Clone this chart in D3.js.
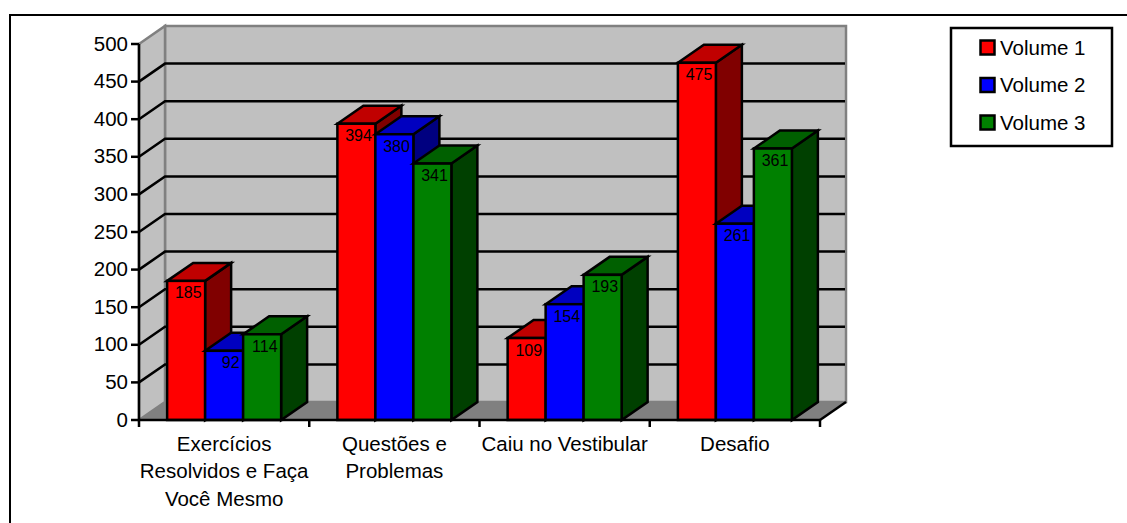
<!DOCTYPE html>
<html>
<head>
<meta charset="utf-8">
<script src="https://cdn.jsdelivr.net/npm/d3@7"></script>
<style>
  html, body { margin: 0; padding: 0; background: #fff; }
  svg { display: block; }
  text { font-family: "Liberation Sans", Arial, sans-serif; fill: #000; }
</style>
</head>
<body>
<div id="chart"></div>
<script>
// Data
var categories = [
    ["Exercícios", "Resolvidos e Faça", "Você Mesmo"],
    ["Questões e", "Problemas"],
    ["Caiu no Vestibular"],
    ["Desafio"]
];
var seriesNames = ["Volume 1", "Volume 2", "Volume 3"];
var volume1 = [185, 394, 109, 475];
var volume2 = [92, 380, 154, 261];
var volume3 = [114, 341, 193, 361];
var yTicks = [0, 50, 100, 150, 200, 250, 300, 350, 400, 450, 500];

var frontColors = ["#ff0000", "#0000ff", "#008000"];
var topColors = ["#c00000", "#0000c0", "#006000"];
var sideColors = ["#800000", "#000080", "#004000"];

var w = 1127;
var h = 523;
var depthX = 26;
var depthY = 18;
var barWidth = 38;
var lineW = 2.5;
var axisFont = 20.5;

var svg = d3.select("#chart")
    .append("svg")
    .attr("width", w)
    .attr("height", h);

// Outer frame, only left and top show inside the picture
svg.append("path")
    .attr("d", "M10,523V15H1127")
    .attr("fill", "none")
    .attr("stroke", "#000")
    .attr("stroke-width", 2);

var xScale = d3.scaleBand()
    .domain(d3.range(categories.length))
    .range([139, 820]);

var yScale = d3.scaleLinear()
    .domain([0, 500])
    .range([420, 44]);

var x0 = xScale.range()[0];
var x1 = xScale.range()[1];
var y0 = yScale(0);
var yTop = yScale(500);

// Walls and floor
function poly(points) {
    return "M" + points.map(function(p) { return p.join(","); }).join("L") + "Z";
}

svg.append("path")
    .attr("d", poly([[x0 + depthX, yTop - depthY], [x1 + depthX, yTop - depthY], [x1 + depthX, y0 - depthY], [x0 + depthX, y0 - depthY]]))
    .attr("fill", "#c0c0c0")
    .attr("stroke", "#808080")
    .attr("stroke-width", lineW);

svg.append("path")
    .attr("d", poly([[x0, yTop], [x0 + depthX, yTop - depthY], [x0 + depthX, y0 - depthY], [x0, y0]]))
    .attr("fill", "#c0c0c0")
    .attr("stroke", "#808080")
    .attr("stroke-width", lineW);

svg.append("path")
    .attr("d", poly([[x0, y0], [x0 + depthX, y0 - depthY], [x1 + depthX, y0 - depthY], [x1, y0]]))
    .attr("fill", "#808080")
    .attr("stroke", "#808080")
    .attr("stroke-width", 1);

// Gridlines on both walls
var gridTicks = yTicks.filter(function(d) { return d > 0 && d < 500; });

svg.selectAll("path.grid")
    .data(gridTicks)
    .enter()
    .append("path")
    .attr("class", "grid")
    .attr("d", function(d) {
        var y = yScale(d);
        return "M" + x0 + "," + y + "L" + (x0 + depthX) + "," + (y - depthY) + "H" + (x1 + depthX - 1);
    })
    .attr("fill", "none")
    .attr("stroke", "#000")
    .attr("stroke-width", lineW);

// Floor edge on the right side, black like the axis
svg.append("line")
    .attr("x1", x1).attr("y1", y0)
    .attr("x2", x1 + depthX).attr("y2", y0 - depthY)
    .attr("stroke", "#000")
    .attr("stroke-width", lineW);

// Bars, one group per series
var seriesData = [volume1, volume2, volume3];
var labelRows = [];

categories.forEach(function(c, i) {
    var left = xScale(i) + (xScale.bandwidth() - barWidth * 3) / 2;

    seriesData.forEach(function(values, s) {
        var bx = left + s * barWidth;
        var by = yScale(values[i]);
        var g = svg.append("g")
            .attr("stroke", "#000")
            .attr("stroke-width", lineW)
            .attr("stroke-linejoin", "miter");

        g.append("path")
            .attr("d", poly([[bx + barWidth, by], [bx + barWidth + depthX, by - depthY], [bx + barWidth + depthX, y0 - depthY], [bx + barWidth, y0]]))
            .attr("fill", sideColors[s]);
        g.append("path")
            .attr("d", poly([[bx, by], [bx + depthX, by - depthY], [bx + barWidth + depthX, by - depthY], [bx + barWidth, by]]))
            .attr("fill", topColors[s]);
        g.append("rect")
            .attr("x", bx)
            .attr("y", by)
            .attr("width", barWidth)
            .attr("height", y0 - by)
            .attr("fill", frontColors[s]);

        labelRows.push({ x: bx + barWidth - 3.5, y: by + 17.5, v: values[i] });
    });
});

// Data labels on top of all bars
svg.selectAll("text.value")
    .data(labelRows)
    .enter()
    .append("text")
    .attr("class", "value")
    .attr("x", function(d) { return d.x; })
    .attr("y", function(d) { return d.y; })
    .attr("text-anchor", "end")
    .attr("font-size", 16)
    .text(function(d) { return d.v; });

// Y axis
var yAxis = d3.axisLeft(yScale)
    .tickValues(yTicks)
    .tickSize(8)
    .tickPadding(3)
    .tickSizeOuter(0)
    .offset(0);

var yG = svg.append("g")
    .attr("transform", "translate(" + x0 + ",0)")
    .call(yAxis);
yG.selectAll("line, path").attr("stroke", "#000").attr("stroke-width", lineW);
yG.selectAll("text")
    .attr("font-size", axisFont)
    .attr("font-family", "Liberation Sans");

// X axis, ticks sit on band edges
svg.append("line")
    .attr("x1", x0).attr("x2", x1)
    .attr("y1", y0).attr("y2", y0)
    .attr("stroke", "#000")
    .attr("stroke-width", lineW);

svg.selectAll("line.xtick")
    .data(d3.range(categories.length + 1))
    .enter()
    .append("line")
    .attr("class", "xtick")
    .attr("x1", function(d) { return x0 + d * xScale.step(); })
    .attr("x2", function(d) { return x0 + d * xScale.step(); })
    .attr("y1", y0)
    .attr("y2", y0 + 7)
    .attr("stroke", "#000")
    .attr("stroke-width", lineW);

var catText = svg.selectAll("text.cat")
    .data(categories)
    .enter()
    .append("text")
    .attr("class", "cat")
    .attr("text-anchor", "middle")
    .attr("font-size", axisFont)
    .attr("y", 450.5);

catText.selectAll("tspan")
    .data(function(d, i) { return d.map(function(t) { return { t: t, i: i }; }); })
    .enter()
    .append("tspan")
    .attr("x", function(d) { return xScale(d.i) + xScale.bandwidth() / 2; })
    .attr("dy", function(d, j) { return j === 0 ? 0 : 27.5; })
    .text(function(d) { return d.t; });

// Legend
var legend = svg.append("g");

legend.append("rect")
    .attr("x", 951).attr("y", 28)
    .attr("width", 161).attr("height", 118)
    .attr("fill", "#fff")
    .attr("stroke", "#000")
    .attr("stroke-width", lineW);

var legendRows = legend.selectAll("g")
    .data(seriesNames)
    .enter()
    .append("g")
    .attr("transform", function(d, i) { return "translate(0," + (47.5 + i * 37.5) + ")"; });

legendRows.append("rect")
    .attr("x", 980.5).attr("y", -7)
    .attr("width", 14).attr("height", 14)
    .attr("fill", function(d, i) { return frontColors[i]; })
    .attr("stroke", "#000")
    .attr("stroke-width", lineW);

legendRows.append("text")
    .attr("x", 1000)
    .attr("y", 7)
    .attr("font-size", axisFont)
    .text(function(d) { return d; });
</script>
</body>
</html>
